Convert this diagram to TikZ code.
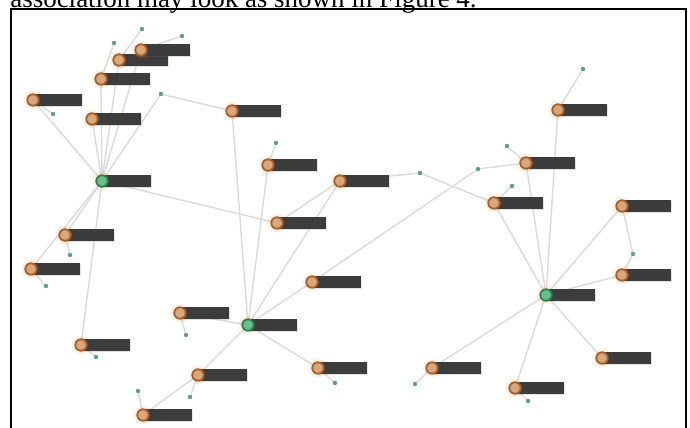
\documentclass[tikz,border=0pt]{standalone}
\usepackage{fontspec}
\setmainfont{Liberation Serif}
\usetikzlibrary{shadows}
\definecolor{edgegray}{HTML}{DADADA}
\definecolor{barcol}{HTML}{3C3C3C}
\definecolor{ringorange}{HTML}{A8612E}
\definecolor{fillorange}{HTML}{D9A77C}
\definecolor{ringgreen}{HTML}{2E8450}
\definecolor{fillgreen}{HTML}{6BBE8C}
\definecolor{dotcol}{HTML}{5E9E8A}
\tikzset{
  edge/.style={draw=edgegray, line width=1.05pt},
  labelbar/.style={fill=barcol, inner sep=0pt, minimum width=36.75pt, minimum height=8.4pt,
    anchor=west, drop shadow={shadow xshift=0.7pt, shadow yshift=-0.7pt, opacity=0.22}},
  halo/.style={circle, fill=orange, opacity=0.10, inner sep=0pt, minimum size=14pt},
  member/.style={circle, draw=ringorange, fill=fillorange, line width=1.4pt, inner sep=0pt, minimum size=8.6pt},
  hub/.style={circle, draw=ringgreen, fill=fillgreen, line width=1.4pt, inner sep=0pt, minimum size=8.6pt},
  leaf/.style={circle, fill=dotcol, inner sep=0pt, minimum size=3.3pt},
  frame/.style={draw=black, line width=1.1pt}
}
\newcommand\person[2]{%
  \node[halo] at (#1) {};
  \node[labelbar] (#1-bar) at (#1) {};
  \node[#2] (#1-dot) at (#1) {};}
\begin{document}
\begin{tikzpicture}[x=0.75pt, y=-0.75pt]
\useasboundingbox (0,0) rectangle (690,428);
\clip (0,0) rectangle (690,428);
\fill[white] (0,0) rectangle (690,428);

% caption line above the figure frame
\node[anchor=base west, inner sep=0pt, font=\fontsize{20.25}{24}\selectfont] (caption) at (10,7.5)
  {association may look as shown in Figure 4.};
\draw[frame] (11,440) |- (686,9) -- (686,440);

% positions of the three hubs
\coordinate (h1) at (102,181);
\coordinate (h2) at (248,325);
\coordinate (h3) at (546,295);
% positions of the member nodes
\coordinate (A) at (141,50);
\coordinate (B) at (119,60);
\coordinate (C) at (101,79);
\coordinate (D) at (33,100);
\coordinate (E) at (92,119);
\coordinate (F) at (65,235);
\coordinate (G) at (31,269);
\coordinate (H) at (81,345);
\coordinate (I) at (180,313);
\coordinate (J) at (198,375);
\coordinate (K) at (143,415);
\coordinate (L) at (232,111);
\coordinate (M) at (268,165);
\coordinate (N) at (340,181);
\coordinate (O) at (277,223);
\coordinate (P) at (312,282);
\coordinate (Q) at (318,368);
\coordinate (R) at (432,368);
\coordinate (S) at (515,388);
\coordinate (T) at (602,358);
\coordinate (U) at (622,275);
\coordinate (V) at (558,110);
\coordinate (W) at (526,163);
\coordinate (X) at (494,203);
\coordinate (Y) at (622,206);
% small leaf dots
\coordinate (d1) at (114,43);
\coordinate (d2) at (142,29);
\coordinate (d3) at (182,36);
\coordinate (d4) at (161,94);
\coordinate (d5) at (53,114);
\coordinate (d6) at (70,255);
\coordinate (d7) at (46,286);
\coordinate (d8) at (96,357);
\coordinate (d9) at (186,335);
\coordinate (d10) at (138,391);
\coordinate (d11) at (190,397);
\coordinate (d12) at (276,143);
\coordinate (d13) at (420,173);
\coordinate (d14) at (478,169);
\coordinate (d15) at (507,146);
\coordinate (d16) at (512,186);
\coordinate (d17) at (583,69);
\coordinate (d18) at (633,254);
\coordinate (d19) at (335,383);
\coordinate (d20) at (415,384);
\coordinate (d21) at (528,401);

% connectors
\foreach \a/\b in {h1/A, h1/B, h1/C, h1/D, h1/E, h1/F, h1/G, h1/H, h1/O, h1/d4,
  h2/L, h2/M, h2/N, h2/P, h2/I, h2/J, h2/Q,
  h3/R, h3/S, h3/T, h3/U, h3/Y, h3/V, h3/W, h3/X,
  J/K, O/N, P/d14, d4/L, d14/W, d13/X, N/d13, Y/d18, d18/U,
  C/d1, B/d2, A/d3, D/d5, F/d6, G/d7, H/d8, I/d9, K/d10, J/d11, M/d12,
  W/d15, X/d16, V/d17, Q/d19, R/d20, S/d21}
  \draw[edge] (\a) -- (\b);

% leaf dots
\foreach \d in {d1,d2,d3,d4,d5,d6,d7,d8,d9,d10,d11,d12,d13,d14,d15,d16,d17,d18,d19,d20,d21}
  \node[leaf] (\d-pt) at (\d) {};

% members and hubs with their label bars
\foreach \m in {D,E,C,B,A,F,G,H,I,J,K,L,M,N,O,P,Q,R,S,T,U,V,W,X,Y}
  {\person{\m}{member}}
\foreach \m in {h1,h2,h3}
  {\person{\m}{hub}}
\end{tikzpicture}
\end{document}
